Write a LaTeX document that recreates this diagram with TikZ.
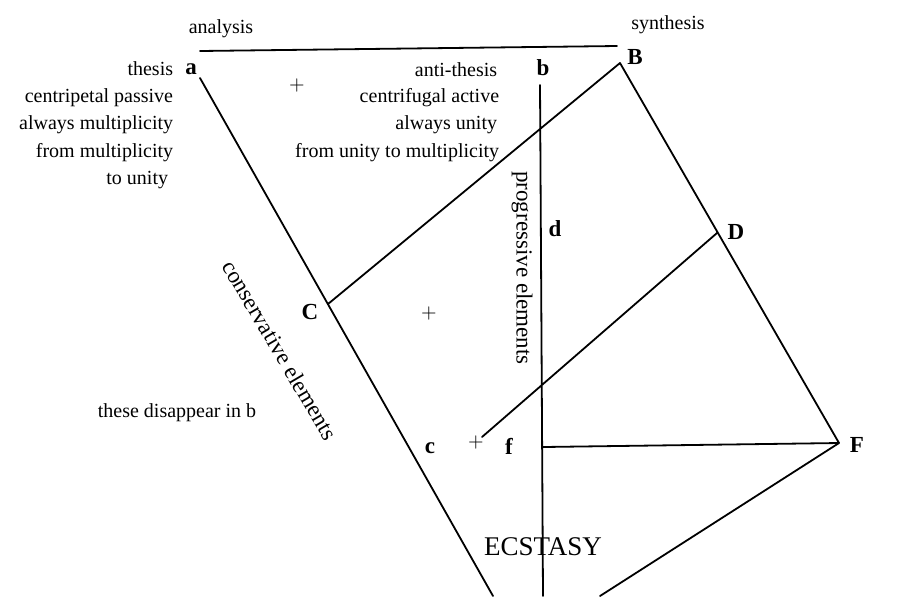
\documentclass[tikz,border=0pt]{standalone}
\usepackage{fontspec}
\setmainfont{Liberation Serif}
\begin{document}
\begin{tikzpicture}[x=0.5pt, y=-0.5pt, font=\fontsize{10}{12}\selectfont, line join=round, line cap=round, line width=0.9pt]
\tikzset{pt/.style={font=\fontsize{11.5}{13}\selectfont\bfseries, inner sep=1pt},
txt/.style={inner sep=1pt, anchor=east},
rot/.style={inner sep=1pt, font=\fontsize{11.5}{13}\selectfont}}
\useasboundingbox (0,0) rectangle (908,596);
%Các đỉnh
\coordinate (anL) at (200,51);
\coordinate (anR) at (617,46);
\coordinate (a) at (200,78);
\coordinate (aE) at (493,596);
\coordinate (B) at (620,63);
\coordinate (C) at (328,304);
\coordinate (D) at (717,233);
\coordinate (F) at (839,443);
\coordinate (b) at (540,85);
\coordinate (bE) at (543,596);
\coordinate (f) at (543,447);
\coordinate (p) at (482,437);
\coordinate (FE) at (600,596);
%Vẽ các đường
\draw (anL)--(anR) (a)--(aE) (C)--(B)--(F)--(FE)
(D)--(p) (b)--(bE) (f)--(F)
;
%Chữ cái
\foreach \n/\x/\y/\t in {la/191/69/a, lb/543/68/b, lB/635/57/B, lC/310/312/C,
ld/555/229/d, lD/736/232/D, lc/430/448/c, lf/509/446/f, lF/857/445/F}
\node[pt] (\n) at (\x,\y) {\t};
\foreach \n/\x/\y in {p1/297/85, p2/429/313, p3/476/442}
\node[inner sep=0pt] (\n) at (\x,\y) {$+$};
%Chữ bên trái
\foreach \n/\x/\y/\t in {t1/176/69/thesis, t2/176/98/centripetal passive,
t3/176/125/always multiplicity, t4/176/153/from multiplicity, t5/171/180/to unity,
u1/500/70/anti-thesis, u2/502/98/centrifugal active, u3/500/125/always unity,
u4/502/153/from unity to multiplicity}
\node[txt] (\n) at (\x,\y) {\t};
\draw (221,29)node(an){analysis} (668,25)node(syn){synthesis}
(177,413)node(dis){these disappear in b}
(280,350)node[rot, rotate=-59.5](cons){conservative elements}
(522,268)node[rot, rotate=-90](prog){progressive elements}
(543,547)node[font=\fontsize{13.5}{15}\selectfont](ecs){ECSTASY}
;
\end{tikzpicture}
\end{document}
